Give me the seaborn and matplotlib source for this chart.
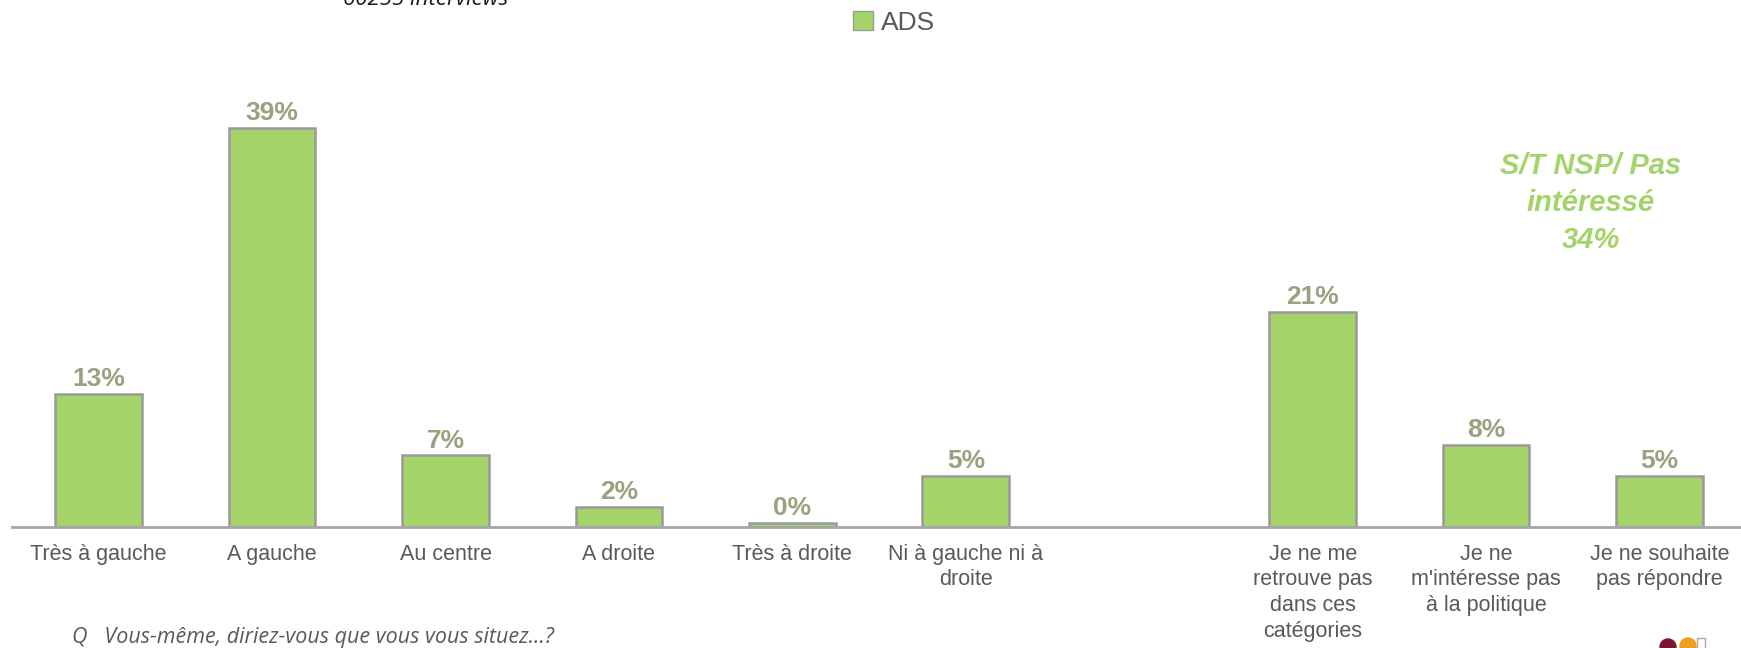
import matplotlib
matplotlib.use("Agg")
import matplotlib.pyplot as plt
from matplotlib.patches import Patch, Ellipse, Rectangle
import seaborn as sns
import pandas as pd

# data
categories = [
    "Très à gauche",
    "A gauche",
    "Au centre",
    "A droite",
    "Très à droite",
    "Ni à gauche ni à\ndroite",
    "Je ne me\nretrouve pas\ndans ces\ncatégories",
    "Je ne\nm'intéresse pas\nà la politique",
    "Je ne souhaite\npas répondre",
]
values = [13, 39, 7, 2, 0.4, 5, 21, 8, 5]
value_labels = ["13%", "39%", "7%", "2%", "0%", "5%", "21%", "8%", "5%"]
series = "ADS"
gap = " "
order = categories[:6] + [gap] + categories[6:]

GREEN = "#a4d46a"
EDGE = "#9a9a9a"
GREY_TXT = "#595959"

sns.set_style("white")
plt.rcParams["font.family"] = ["Liberation Sans", "DejaVu Sans"]

df = pd.DataFrame({"cat": categories, "val": values, "serie": series})

fig = plt.figure(figsize=(17.41, 6.48), dpi=100)
ax = fig.add_axes([12 / 1741, 121 / 648, 1 - 12 / 1741, 0.7105])

sns.barplot(data=df, x="cat", y="val", hue="serie", order=order,
            palette={series: GREEN}, saturation=1, width=0.5,
            edgecolor=EDGE, linewidth=1.8, legend=False, ax=ax)

for cont in ax.containers:
    ax.bar_label(cont, labels=value_labels, padding=2, fontsize=19,
                 fontweight="bold", color="#98a27f")

ax.set_xlim(-0.5, 9.47)
ax.set_ylim(0, 45)
ax.set_xlabel("")
ax.set_ylabel("")
ax.set_yticks([])
ax.tick_params(axis="x", length=0, pad=12, labelsize=15.5, labelcolor=GREY_TXT)
for lab in ax.get_xticklabels():
    lab.set_linespacing(1.3)
for s in ["top", "right", "left"]:
    ax.spines[s].set_visible(False)
ax.spines["bottom"].set_color("#a6a6a6")
ax.spines["bottom"].set_linewidth(2)

# legend at the top
fig.legend(handles=[Patch(facecolor=GREEN, edgecolor=EDGE, label=series)],
           loc="center", bbox_to_anchor=(0.5135, 0.9645), frameon=False,
           fontsize=19, handlelength=0.75, handleheight=0.75,
           handletextpad=0.3, labelcolor=GREY_TXT)

# side note
fig.text(1591 / 1741, 1 - 203 / 648, "S/T NSP/ Pas\nintéressé\n34%",
         ha="center", va="center", fontsize=21, fontweight="bold",
         fontstyle="italic", color="#a3d46b", linespacing=1.4)

# cut-off header (cut in the reference too) and question
fig.text(343 / 1741, 1 - 5 / 648, "60255 interviews", ha="left",
         va="baseline", fontsize=16, fontstyle="italic", color="#1a1a1a",
         family=["Open Sans", "DejaVu Sans"])
fig.text(72 / 1741, 1 - 638 / 648,
         "Q   Vous-même, diriez-vous que vous vous situez...?",
         ha="left", va="center", fontsize=15.5, fontstyle="italic",
         color=GREY_TXT, family=["Open Sans", "DejaVu Sans"])

# small logo bits in the corner
W, H = 1741, 648
fig.add_artist(Ellipse((1668 / W, 1 - 647 / H), 16 / W, 16 / H,
                       transform=fig.transFigure, color="#7b1630"))
fig.add_artist(Ellipse((1688 / W, 1 - 646 / H), 16 / W, 16 / H,
                       transform=fig.transFigure, color="#f0a01e"))
fig.add_artist(Rectangle((1697 / W, 1 - 652 / H), 8 / W, 14 / H,
                         transform=fig.transFigure, facecolor="white",
                         edgecolor="#aaaaaa", lw=1))

fig.savefig("out.png", dpi=100)
